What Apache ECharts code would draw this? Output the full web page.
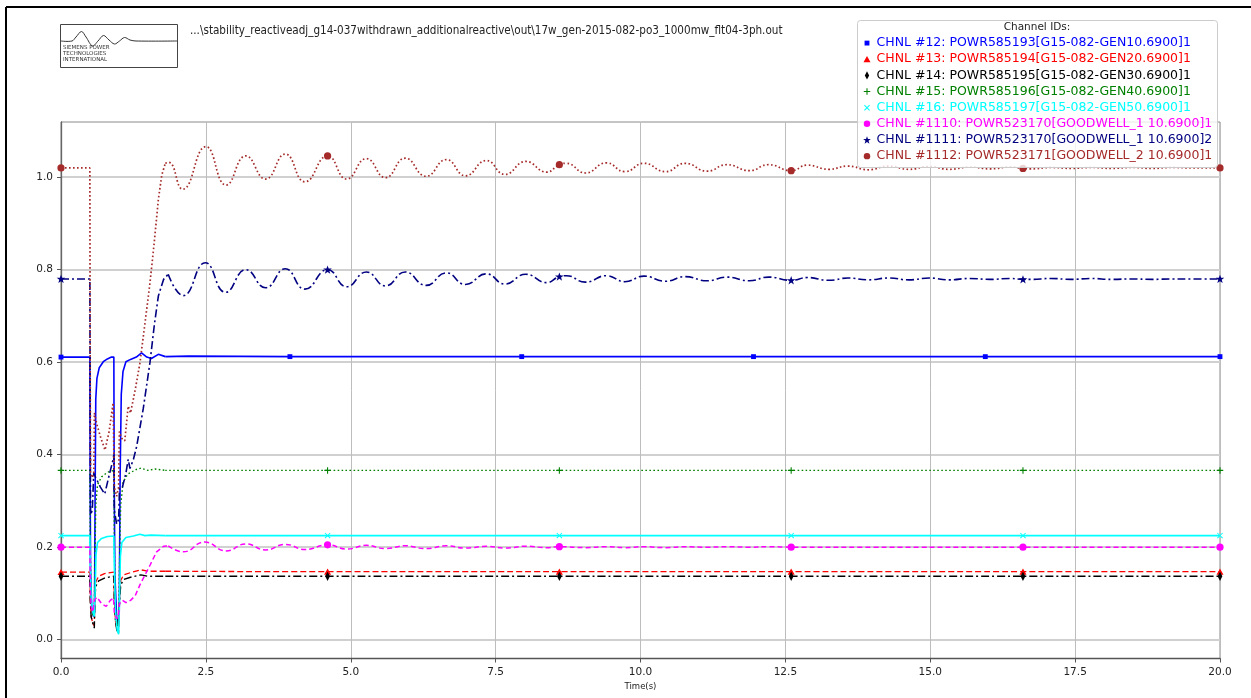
<!DOCTYPE html>
<html><head><meta charset="utf-8">
<script src="https://cdn.jsdelivr.net/npm/echarts@6/dist/echarts.min.js"></script>
<style>html,body{margin:0;padding:0;background:#fff}#c{width:1251px;height:698px}</style>
</head><body><div id="c"></div>
<script>
// ---------------- data ----------------
const yTicks = [0.0, 0.2, 0.4, 0.6, 0.8, 1.0];
const xTickStep = 2.5;
const legendTitle = 'Channel IDs:';
const filePath = '...\\stability_reactiveadj_g14-037withdrawn_additionalreactive\\out\\17w_gen-2015-082-po3_1000mw_flt04-3ph.out';
const xName = 'Time(s)';
const channelNames = [
  'CHNL #12: POWR585193[G15-082-GEN10.6900]1',
  'CHNL #13: POWR585194[G15-082-GEN20.6900]1',
  'CHNL #14: POWR585195[G15-082-GEN30.6900]1',
  'CHNL #15: POWR585196[G15-082-GEN40.6900]1',
  'CHNL #16: POWR585197[G15-082-GEN50.6900]1',
  'CHNL #1110: POWR523170[GOODWELL_1 10.6900]1',
  'CHNL #1111: POWR523170[GOODWELL_1 10.6900]2',
  'CHNL #1112: POWR523171[GOODWELL_2 10.6900]1'
];
const markTimesA = [0, 3.95, 7.95, 11.95, 15.95, 20];
const markTimesB = [0, 4.6, 8.6, 12.6, 16.6, 20];

const ch12 = [[0,0.611],[0.498,0.611],[0.503,0.35],[0.51,0.15],[0.53,0.07],[0.56,0.05],[0.578,0.06],[0.588,0.3],[0.60,0.52],[0.62,0.565],[0.66,0.588],[0.73,0.601],[0.80,0.607],[0.87,0.611],[0.912,0.611],[0.918,0.35],[0.93,0.14],[0.96,0.05],[0.99,0.03],[1.005,0.06],[1.02,0.35],[1.04,0.53],[1.07,0.58],[1.12,0.601],[1.2,0.606],[1.3,0.611],[1.39,0.62],[1.48,0.611],[1.56,0.608],[1.68,0.617],[1.8,0.612],[2.2,0.613],[3.95,0.612],[7.95,0.612],[11.95,0.612],[15.95,0.612],[20,0.612]];
const ch13 = [[0,0.146],[0.498,0.146],[0.505,0.09],[0.52,0.05],[0.55,0.035],[0.575,0.03],[0.585,0.1],[0.6,0.125],[0.65,0.137],[0.75,0.143],[0.85,0.145],[0.912,0.146],[0.92,0.09],[0.94,0.04],[0.97,0.02],[0.995,0.015],[1.01,0.09],[1.03,0.128],[1.08,0.14],[1.2,0.145],[1.38,0.151],[1.5,0.148],[1.8,0.148],[4.6,0.147],[8.6,0.147],[12.6,0.147],[16.6,0.147],[20,0.147]];
const ch14 = [[0,0.137],[0.498,0.137],[0.505,0.085],[0.52,0.05],[0.55,0.035],[0.575,0.025],[0.585,0.09],[0.6,0.115],[0.65,0.127],[0.75,0.133],[0.85,0.136],[0.912,0.137],[0.92,0.085],[0.94,0.04],[0.97,0.015],[0.995,0.012],[1.01,0.08],[1.03,0.118],[1.08,0.13],[1.2,0.135],[1.38,0.14],[1.5,0.137],[1.8,0.137],[4.6,0.137],[8.6,0.137],[12.6,0.137],[16.6,0.137],[20,0.137]];
const ch15 = [[0,0.366],[0.498,0.366],[0.505,0.2],[0.52,0.08],[0.55,0.05],[0.575,0.06],[0.585,0.17],[0.6,0.29],[0.63,0.335],[0.7,0.352],[0.8,0.362],[0.912,0.366],[0.92,0.2],[0.94,0.07],[0.97,0.03],[0.995,0.04],[1.01,0.17],[1.03,0.29],[1.07,0.34],[1.15,0.358],[1.3,0.368],[1.38,0.371],[1.5,0.366],[1.62,0.369],[1.8,0.366],[4.6,0.366],[8.6,0.366],[12.6,0.366],[16.6,0.366],[20,0.366]];
const ch16 = [[0,0.225],[0.498,0.225],[0.505,0.16],[0.52,0.09],[0.55,0.06],[0.575,0.05],[0.59,0.11],[0.605,0.185],[0.63,0.21],[0.7,0.219],[0.8,0.223],[0.912,0.224],[0.92,0.16],[0.94,0.06],[0.97,0.02],[0.995,0.012],[1.01,0.09],[1.025,0.18],[1.05,0.21],[1.12,0.221],[1.25,0.224],[1.36,0.228],[1.45,0.225],[1.55,0.226],[1.8,0.225],[4.6,0.225],[8.6,0.225],[12.6,0.225],[16.6,0.225],[20,0.225]];
const ch1110 = [[0,0.2],[0.498,0.2],[0.505,0.12],[0.52,0.07],[0.55,0.06],[0.575,0.085],[0.62,0.092],[0.70,0.078],[0.78,0.072],[0.85,0.085],[0.905,0.09],[0.92,0.06],[0.96,0.045],[0.99,0.05],[1.01,0.078],[1.06,0.085],[1.12,0.08],[1.2,0.085],[1.28,0.095],[1.36,0.118],[1.45,0.14],[1.54,0.162],[1.65,0.19],[1.77,0.202],[1.85,0.203],[2.11,0.19],[2.48,0.211],[2.85,0.192],[3.19,0.207],[3.53,0.194],[3.87,0.206],[4.21,0.195],[4.60,0.205],[4.93,0.196],[5.27,0.204],[5.60,0.197],[5.94,0.203],[6.30,0.197],[6.65,0.203],[6.98,0.198],[7.34,0.202],[7.66,0.198],[8.02,0.202],[8.38,0.199],[8.60,0.201],[9.05,0.199],[9.41,0.201],[9.73,0.199],[10.06,0.201],[10.43,0.199],[10.77,0.201],[11.15,0.2],[11.49,0.201],[11.88,0.2],[12.21,0.201],[12.60,0.2],[14.0,0.2],[16.6,0.2],[20,0.2]];
const ch1111 = [[0,0.78],[0.498,0.78],[0.503,0.5],[0.51,0.27],[0.54,0.28],[0.565,0.36],[0.60,0.35],[0.68,0.33],[0.755,0.315],[0.83,0.355],[0.9,0.39],[0.912,0.40],[0.92,0.28],[0.96,0.25],[0.995,0.26],[1.01,0.33],[1.06,0.33],[1.12,0.36],[1.16,0.39],[1.19,0.37],[1.25,0.39],[1.306,0.418],[1.42,0.50],[1.536,0.60],[1.61,0.68],[1.68,0.743],[1.77,0.779],[1.85,0.79],[2.11,0.744],[2.49,0.815],[2.84,0.751],[3.19,0.80],[3.53,0.761],[3.87,0.802],[4.21,0.758],[4.60,0.80],[4.93,0.763],[5.27,0.795],[5.60,0.765],[5.94,0.795],[6.30,0.766],[6.65,0.793],[6.98,0.768],[7.34,0.791],[7.66,0.769],[8.02,0.790],[8.38,0.772],[8.60,0.785],[8.72,0.787],[9.05,0.773],[9.41,0.787],[9.73,0.774],[10.06,0.786],[10.43,0.775],[10.77,0.785],[11.15,0.776],[11.49,0.784],[11.88,0.776],[12.21,0.784],[12.60,0.777],[12.88,0.783],[13.25,0.777],[13.58,0.782],[13.93,0.778],[14.28,0.782],[14.63,0.778],[14.98,0.782],[15.33,0.778],[15.68,0.781],[16.03,0.779],[16.38,0.781],[16.60,0.779],[16.73,0.779],[17.08,0.781],[17.43,0.779],[17.78,0.781],[18.13,0.779],[18.48,0.780],[18.83,0.779],[19.18,0.780],[19.53,0.780],[20.0,0.780]];
const ch1112 = [[0,1.02],[0.498,1.02],[0.503,0.62],[0.51,0.36],[0.54,0.35],[0.566,0.36],[0.576,0.49],[0.62,0.465],[0.69,0.435],[0.76,0.41],[0.83,0.45],[0.9,0.512],[0.912,0.51],[0.92,0.33],[0.96,0.31],[0.995,0.33],[1.007,0.45],[1.05,0.435],[1.1,0.43],[1.16,0.505],[1.2,0.49],[1.28,0.54],[1.363,0.599],[1.45,0.685],[1.536,0.772],[1.61,0.86],[1.68,0.952],[1.74,1.005],[1.80,1.03],[1.86,1.032],[2.10,0.974],[2.50,1.066],[2.85,0.983],[3.19,1.046],[3.53,0.996],[3.87,1.050],[4.21,0.990],[4.60,1.046],[4.93,0.996],[5.27,1.040],[5.60,0.999],[5.94,1.041],[6.30,1.002],[6.65,1.038],[6.98,1.003],[7.34,1.036],[7.66,1.006],[8.02,1.034],[8.38,1.011],[8.60,1.027],[8.72,1.030],[9.05,1.009],[9.41,1.031],[9.73,1.012],[10.06,1.030],[10.43,1.012],[10.77,1.030],[11.15,1.013],[11.49,1.027],[11.88,1.014],[12.21,1.027],[12.60,1.014],[12.88,1.026],[13.25,1.017],[13.58,1.024],[13.93,1.016],[14.28,1.024],[14.63,1.017],[14.98,1.023],[15.33,1.017],[15.68,1.022],[16.03,1.018],[16.38,1.022],[16.60,1.019],[16.73,1.018],[17.08,1.021],[17.43,1.019],[17.78,1.021],[18.13,1.019],[18.48,1.021],[18.83,1.019],[19.18,1.021],[19.53,1.020],[20.0,1.020]];

const channelData = [ch12, ch13, ch14, ch15, ch16, ch1110, ch1111, ch1112];
const channelMarks = [markTimesA, markTimesB, markTimesB, markTimesB, markTimesB, markTimesB, markTimesB, markTimesB];

// ---------------- styles ----------------
const FRAME = 'M0,0L0,0M10,10L10,10';
const ICONS = {
  square: 'path://' + FRAME + 'M2.3,2.3H7.7V7.7H2.3Z',
  tri: 'path://' + FRAME + 'M5,1.4L8.9,8.3L1.1,8.3Z',
  dia: 'path://' + FRAME + 'M5,0.4L7.4,5L5,9.6L2.6,5Z',
  plus: 'path://' + FRAME + 'M4.4,1.4H5.6V4.4H8.6V5.6H5.6V8.6H4.4V5.6H1.4V4.4H4.4Z',
  cross: 'path://' + FRAME + 'M1.7,2.5L2.5,1.7L5,4.2L7.5,1.7L8.3,2.5L5.8,5L8.3,7.5L7.5,8.3L5,5.8L2.5,8.3L1.7,7.5L4.2,5Z',
  circ: 'path://' + FRAME + 'M1.4,5A3.6,3.6,0,1,0,8.6,5A3.6,3.6,0,1,0,1.4,5Z',
  star: 'path://' + FRAME + 'M5,0.8L6.1,3.9L9.3,3.9L6.7,5.9L7.7,9.1L5,7.2L2.3,9.1L3.3,5.9L0.7,3.9L3.9,3.9Z'
};
const styles = [
  {color:'#0000ff', dash:'solid', width:1.6, icon:ICONS.square, size:9},
  {color:'#ff0000', dash:[6,3], width:1.3, icon:ICONS.tri, size:9},
  {color:'#000000', dash:[8,3,2,3], width:1.4, icon:ICONS.dia, size:10},
  {color:'#008000', dash:[1.6,2.4], width:1.4, icon:ICONS.plus, size:9},
  {color:'#00ffff', dash:'solid', width:1.6, icon:ICONS.cross, size:9},
  {color:'#ff00ff', dash:[5,3], width:1.5, icon:ICONS.circ, size:10},
  {color:'#000080', dash:[8,3,2,3], width:1.6, icon:ICONS.star, size:10},
  {color:'#a52a2a', dash:[1.6,2.4], width:1.7, icon:ICONS.circ, size:10}
];

// ---------------- build ----------------
const CUT = 1.8;
function isMark(t, marks){ return marks.some(m => Math.abs(m - t) < 1e-6); }
const series = [];
channelData.forEach((data, i) => {
  const st = styles[i];
  const idx = data.findIndex(p => p[0] >= CUT);
  const parts = [data.slice(0, idx + 1), data.slice(idx)];
  parts.forEach((part, k) => {
    series.push({
      type: 'line',
      name: channelNames[i],
      smooth: k === 1 ? 0.5 : false,
      symbol: st.icon,
      symbolSize: st.size,
      showSymbol: true,
      clip: true,
      z: 2 + i * 0.01,
      lineStyle: {color: st.color, width: st.width, type: st.dash},
      itemStyle: {color: st.color},
      emphasis: {disabled: true},
      data: part.map(p => ({value: p, symbol: isMark(p[0], channelMarks[i]) ? st.icon : 'none'}))
    });
  });
});

const option = {
  animation: false,
  backgroundColor: '#ffffff',
  textStyle: {fontFamily: 'DejaVu Sans'},
  grid: {left: 61, right: 31, top: 122, bottom: 39.5, show: true, borderColor: '#8a8a8a', borderWidth: 1, backgroundColor: 'transparent'},
  xAxis: {
    type: 'value', min: 0, max: 20, interval: xTickStep,
    axisLine: {show: true, onZero: false, lineStyle: {color: '#555', width: 1.3}},
    axisTick: {show: true, length: 4, lineStyle: {color: '#555'}},
    axisLabel: {formatter: v => v.toFixed(1), fontSize: 10.5, color: '#222', margin: 8},
    splitLine: {show: true, lineStyle: {color: '#bdbdbd', width: 1}},
    name: xName, nameLocation: 'middle', nameGap: 23, nameTextStyle: {fontSize: 8.5, color: '#222'}
  },
  yAxis: {
    type: 'value', min: -0.0407, max: 1.1193,
    axisLine: {show: true, onZero: false, lineStyle: {color: '#666', width: 1.3}},
    axisTick: {show: true, length: 4, customValues: yTicks, lineStyle: {color: '#555'}},
    axisLabel: {customValues: yTicks, formatter: v => v.toFixed(1), fontSize: 10.5, color: '#222', margin: 8},
    splitLine: {show: true, lineStyle: {color: '#d0d0d0', width: 2}}
  },
  legend: {
    orient: 'vertical', left: 862.5, top: 35, padding: 0,
    itemWidth: 9, itemHeight: 9, itemGap: 0, selectedMode: false, z: 20,
    textStyle: {fontFamily: 'DejaVu Sans', fontSize: 12.5, lineHeight: 16.15},
    data: channelNames.map((n, i) => ({name: n, icon: styles[i].icon, textStyle: {color: styles[i].color}}))
  },
  graphic: [
    {type: 'line', z: 30, shape: {x1: 6, y1: 7, x2: 1251, y2: 7}, style: {stroke: '#000', lineWidth: 2}},
    {type: 'line', z: 30, shape: {x1: 6, y1: 7, x2: 6, y2: 698}, style: {stroke: '#000', lineWidth: 2}},
    {type: 'rect', z: 30, shape: {x: 60.5, y: 24.5, width: 117, height: 43}, style: {fill: '#fff', stroke: '#444', lineWidth: 1}},
    {type: 'polyline', z: 31, shape: {points: [[61,41],[72,41],[76,37],[81.5,31.5],[86,37],[92.5,46],[98,41],[103.5,35.5],[109,40],[114.5,44],[119.5,41],[124.5,37.5],[130,40],[136,41],[177,41]], smooth: 0.35}, style: {fill: 'none', stroke: '#333', lineWidth: 1}},
    {type: 'text', z: 31, style: {x: 63, y: 48, text: 'SIEMENS POWER', font: '5.5px "DejaVu Sans"', fill: '#333', verticalAlign: 'middle'}},
    {type: 'text', z: 31, style: {x: 63, y: 54, text: 'TECHNOLOGIES', font: '5.5px "DejaVu Sans"', fill: '#333', verticalAlign: 'middle'}},
    {type: 'text', z: 31, style: {x: 63, y: 60, text: 'INTERNATIONAL', font: '5.5px "DejaVu Sans"', fill: '#333', verticalAlign: 'middle'}},
    {type: 'text', z: 31, style: {x: 190, y: 31, text: filePath, font: '11.6px "DejaVu Sans Condensed", "DejaVu Sans"', fill: '#222', verticalAlign: 'middle'}},
    {type: 'rect', z: 15, shape: {x: 857.5, y: 20.5, width: 360, height: 147, r: 3}, style: {fill: 'rgba(255,255,255,0.8)', stroke: '#cccccc', lineWidth: 1}},
    {type: 'text', z: 31, style: {x: 1037, y: 27, text: legendTitle, font: '10.5px "DejaVu Sans"', fill: '#222', align: 'center', verticalAlign: 'middle'}}
  ],
  series: series
};

const chart = echarts.init(document.getElementById('c'), null, {renderer: 'canvas'});
chart.setOption(option);
</script>
</body></html>
